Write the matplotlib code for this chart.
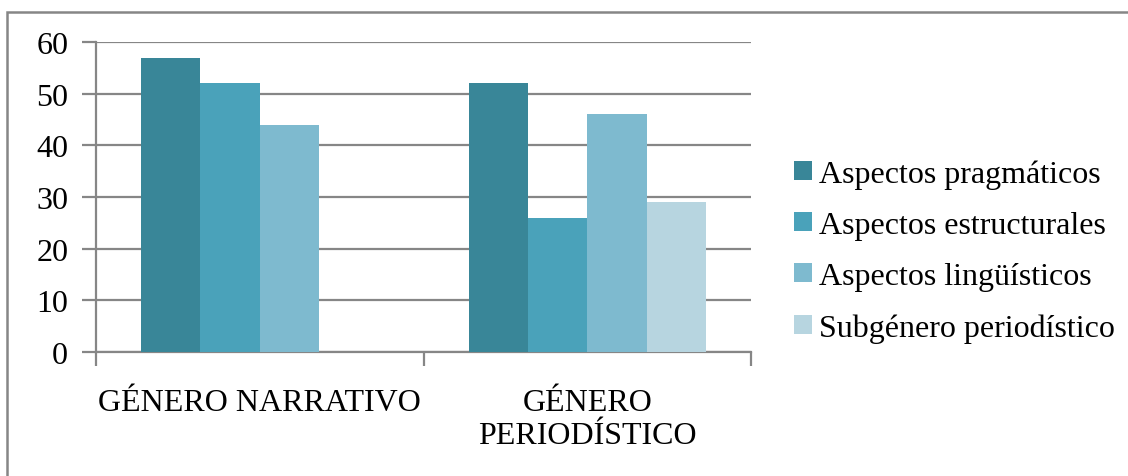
import numpy as np
import matplotlib.pyplot as plt
from matplotlib.patches import Rectangle, Patch

plt.rcParams["font.family"] = ["Liberation Serif", "DejaVu Serif"]

categories = ["GÉNERO NARRATIVO", "GÉNERO\nPERIODÍSTICO"]
series = ["Aspectos pragmáticos", "Aspectos estructurales",
          "Aspectos lingüísticos", "Subgénero periodístico"]
values = [
    [57, 52],
    [52, 26],
    [44, 46],
    [0, 29],
]
colors = ["#398698", "#4AA2BA", "#7EBACF", "#B7D5E0"]
grid_color = "#868686"

W, H = 1128, 477
fig = plt.figure(figsize=(W / 100, H / 100), dpi=100)
ax = fig.add_axes([96 / W, 1 - 353 / H, (751 - 96) / W, (353 - 43) / H])

x = np.arange(len(categories))
bw = 0.181
for i, (name, vals) in enumerate(zip(series, values)):
    offs = (i - 1.5) * bw
    ax.bar(x + offs, vals, width=bw, color=colors[i], label=name,
           zorder=3, linewidth=0)

ax.set_xlim(-0.5, 1.5)
ax.set_ylim(0, 60)
ax.set_yticks(range(0, 61, 10))
ax.yaxis.grid(True, color=grid_color, linewidth=1.6, zorder=0)
ax.set_axisbelow(True)

for s in ["top", "right"]:
    ax.spines[s].set_visible(False)
ax.spines["left"].set_color(grid_color)
ax.spines["bottom"].set_color(grid_color)
ax.spines["left"].set_linewidth(1.6)
ax.spines["bottom"].set_linewidth(1.6)

# category boundary ticks
ax.set_xticks([-0.5, 0.5, 1.5])
ax.set_xticklabels([])
ax.tick_params(axis="x", length=10, width=1.6, color=grid_color, direction="out")
ax.tick_params(axis="y", length=10, width=1.6, color=grid_color,
               labelsize=23, pad=10)

for xi, lab in zip(x, categories):
    ax.text(xi, -6.9, lab, ha="center", va="top", fontsize=23,
            linespacing=1.2, transform=ax.transData)

handles = [Patch(facecolor=c, edgecolor="none") for c in colors]
fig.legend(handles, series, loc="center left",
           bbox_to_anchor=(794 / W, 1 - 252 / H), frameon=False,
           fontsize=23, handlelength=0.55, handleheight=0.55,
           handletextpad=0.22, labelspacing=0.69, borderpad=0,
           borderaxespad=0)

# outer chart border
fig.add_artist(Rectangle((7 / W, -0.5), 2, 1.5 - 13 / H,
                         transform=fig.transFigure, fill=False,
                         edgecolor=grid_color, linewidth=1.8))

fig.savefig("out.png", dpi=100)
